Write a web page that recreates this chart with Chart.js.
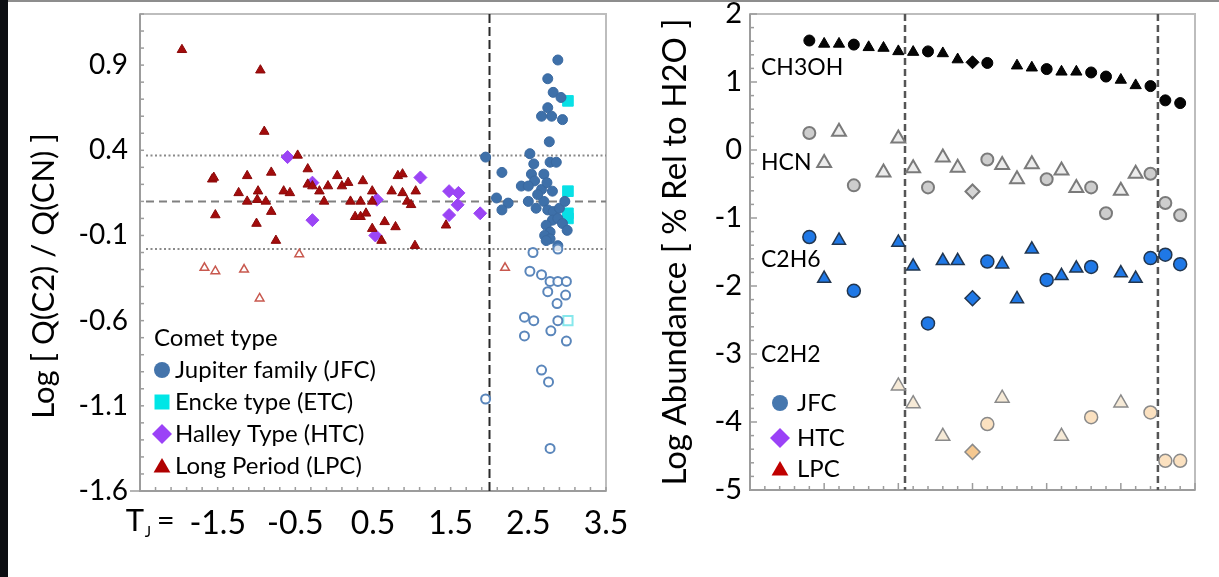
<!DOCTYPE html>
<html>
<head>
<meta charset="utf-8">
<title>Comet composition</title>
<script src="https://cdn.jsdelivr.net/npm/chart.js@4.4.1/dist/chart.umd.min.js"></script>
<style>
  html, body { margin: 0; padding: 0; background: #fff; }
  #page { position: relative; width: 1219px; height: 577px; overflow: hidden; background: #fff; }
  #page::before { content: ''; position: absolute; left: 0; top: 0; right: 0; height: 2px; background: #8d8d8d; z-index: 2; }
  #edge { position: absolute; left: 0; top: 0; width: 8px; height: 577px; background: #0c0e12; z-index: 3; }
  canvas { position: absolute; top: 0; }
  #ratioChart { left: 0; }
  #abundChart { left: 620px; }
</style>
</head>
<body>
<div id="page">
  <canvas id="ratioChart" width="650" height="577"></canvas>
  <canvas id="abundChart" width="599" height="577"></canvas>
  <div id="edge"></div>
</div>
<script>
// ---- left panel: Tisserand parameter vs log Q(C2)/Q(CN) ----
const tjTicks = [-1.5, -0.5, 0.5, 1.5, 2.5, 3.5];
const ratioTicks = [-1.6, -1.1, -0.6, -0.1, 0.4, 0.9];

const lpcTj = [-1.96, -0.95, -0.90, -0.47, -1.57, -1.55, -1.53, -1.12, -1.23, -1.12, -0.98, -0.99, -0.88, -0.81, -0.81, -1.00, -0.75,
  -0.65, -0.57, -0.34, -0.34, -0.28, -0.19, -0.13, -0.08, 0.04, 0.10, 0.18, 0.21, 0.34, 0.37, 0.27, 0.34, 0.41, 0.49, 0.49, 0.49,
  0.61, 0.65, 0.74, 0.79, 0.82, 0.88, 0.88, 0.94, 0.99, 1.05, 1.04, 1.44];
const lpcRatio = [0.99, 0.87, 0.51, 0.37, 0.23, 0.24, 0.02, 0.25, 0.15, 0.10, 0.16, 0.11, 0.10, 0.27, 0.04, -0.03, -0.13,
  0.16, 0.15, 0.29, 0.20, 0.19, 0.16, 0.10, 0.19, 0.25, 0.19, 0.21, 0.10, 0.10, 0.22, 0.01, 0.01, 0.03, 0.16, 0.10, -0.06,
  -0.13, -0.02, 0.16, -0.05, 0.25, 0.26, 0.15, 0.10, 0.08, 0.16, -0.16, -0.04];
const lpcDepTj = [-1.67, -1.53, -1.16, -0.96, -0.45, 2.20];
const lpcDepRatio = [-0.29, -0.31, -0.30, -0.47, -0.21, -0.29];

const htcTj = [-0.60, -0.28, -0.28, 0.55, 0.53, 1.11, 1.48, 1.60, 1.59, 1.48, 1.88];
const htcRatio = [0.36, 0.21, -0.01, 0.11, -0.10, 0.24, 0.16, 0.15, 0.08, 0.02, 0.03];

const jfcTj = [2.88, 2.75, 2.82, 2.92, 2.75, 2.67, 2.80, 2.94, 2.77, 2.52, 1.95, 2.57, 2.78, 2.86, 2.16, 2.54, 2.70, 2.58,
  2.41, 2.50, 2.67, 2.81, 2.09, 2.24, 2.16, 2.50, 2.60, 2.70, 2.75, 2.82, 2.90, 2.97, 2.81, 2.88, 2.94, 2.73, 2.78, 3.00,
  2.71, 2.78, 2.88, 2.73, 2.74, 2.62];
const jfcRatio = [0.93, 0.82, 0.74, 0.71, 0.65, 0.60, 0.60, 0.58, 0.45, 0.38, 0.36, 0.32, 0.33, 0.33, 0.27, 0.26, 0.26, 0.22,
  0.19, 0.19, 0.17, 0.16, 0.12, 0.09, 0.05, 0.10, 0.06, 0.10, 0.05, 0.04, 0.06, 0.10, -0.01, 0.00, -0.03, -0.04, -0.08, -0.07,
  -0.10, -0.12, -0.16, -0.13, 0.21, 0.14];
const jfcDepTj = [2.56, 2.88, 2.52, 2.67, 2.78, 2.88, 2.99, 2.75, 2.98, 2.87, 2.45, 2.57, 2.88, 2.45, 2.79, 2.99, 2.67, 2.76, 1.95, 2.78];
const jfcDepRatio = [-0.20, -0.18, -0.31, -0.33, -0.37, -0.37, -0.37, -0.43, -0.45, -0.50, -0.58, -0.60, -0.60, -0.69, -0.66,
  -0.72, -0.89, -0.96, -1.06, -1.35];

const etcTj = [3.01, 3.01, 3.01, 3.01];
const etcRatio = [0.69, 0.16, 0.03, 0.00];
const etcDepTj = [3.01];
const etcDepRatio = [-0.60];

const ratioBand = [0.37, -0.18];   // dotted
const ratioMean = 0.10;            // dashed
const tjDivide = 2.0;              // dashed vertical

// ---- right panel: abundances relative to H2O, comets ordered along x ----
const abundTicks = [2, 1, 0, -1, -2, -3, -4, -5];
const groupBreaks = [10.45, 27.5];

const ch3ohIdx = [4, 5, 6, 7, 8, 9, 10, 11, 12, 13, 14, 15, 16, 18, 19, 20, 21, 22, 23, 24, 25, 26, 27, 28, 29];
const ch3ohType = ['J', 'L', 'L', 'J', 'L', 'L', 'L', 'L', 'J', 'L', 'L', 'H', 'J', 'L', 'L', 'J', 'L', 'L', 'J', 'J', 'L', 'L', 'J', 'J', 'J'];
const ch3ohVal = [1.61, 1.56, 1.56, 1.55, 1.51, 1.50, 1.45, 1.44, 1.45, 1.42, 1.33, 1.29, 1.28, 1.24, 1.21, 1.19, 1.15, 1.15,
  1.14, 1.08, 1.03, 0.95, 0.94, 0.73, 0.69];

const hcnIdx = [4, 5, 6, 7, 9, 10, 11, 12, 13, 14, 15, 16, 17, 18, 19, 20, 21, 22, 23, 24, 25, 26, 27, 28, 29];
const hcnType = ['J', 'L', 'L', 'J', 'L', 'L', 'L', 'J', 'L', 'L', 'H', 'J', 'L', 'L', 'L', 'J', 'L', 'L', 'J', 'J', 'L', 'L', 'J', 'J', 'J'];
const hcnVal = [0.25, -0.19, 0.27, -0.52, -0.33, 0.17, -0.27, -0.55, -0.11, -0.26, -0.61, -0.14, -0.22, -0.43, -0.21, -0.43,
  -0.30, -0.56, -0.55, -0.93, -0.60, -0.35, -0.35, -0.78, -0.96];

const c2h6Idx = [4, 5, 6, 7, 10, 11, 12, 13, 14, 15, 16, 17, 18, 19, 20, 21, 22, 23, 25, 26, 27, 28, 29];
const c2h6Type = ['J', 'L', 'L', 'J', 'L', 'L', 'J', 'L', 'L', 'H', 'J', 'L', 'L', 'L', 'J', 'L', 'L', 'J', 'L', 'L', 'J', 'J', 'J'];
const c2h6Val = [-1.28, -1.89, -1.33, -2.07, -1.36, -1.71, -2.55, -1.63, -1.63, -2.18, -1.64, -1.68, -2.19, -1.46, -1.91, -1.85,
  -1.74, -1.72, -1.81, -1.89, -1.59, -1.54, -1.68];

const c2h2Idx = [10, 11, 13, 15, 16, 17, 21, 23, 25, 27, 28, 29];
const c2h2Type = ['L', 'L', 'L', 'H', 'J', 'L', 'L', 'J', 'L', 'J', 'J', 'J'];
const c2h2Val = [-3.47, -3.73, -4.21, -4.44, -4.03, -3.65, -4.21, -3.93, -3.72, -3.86, -4.57, -4.57];

const FONT = 'Lato, "Open Sans", sans-serif';
Chart.defaults.font.family = FONT;
Chart.defaults.color = '#000';
Chart.defaults.animation = false;

const pts = (xs, ys) => xs.map((x, i) => ({ x, y: ys[i] }));

function drawFrame(ctx, a) {
  ctx.save();
  ctx.lineWidth = 2;
  ctx.strokeStyle = '#bdbdbd';
  ctx.strokeRect(a.left, a.top, a.right - a.left, a.bottom - a.top);
  ctx.strokeStyle = '#9c9c9c';
  ctx.beginPath();
  ctx.moveTo(a.left, a.top);
  ctx.lineTo(a.left, a.bottom);
  ctx.lineTo(a.right, a.bottom);
  ctx.stroke();
  ctx.restore();
}

function seg(ctx, x1, y1, x2, y2) {
  ctx.beginPath();
  ctx.moveTo(x1, y1);
  ctx.lineTo(x2, y2);
  ctx.stroke();
}

function marker(ctx, style, x, y, r, fill) {
  ctx.save();
  ctx.fillStyle = fill;
  ctx.beginPath();
  if (style === 'circle') {
    ctx.arc(x, y, r, 0, Math.PI * 2);
  } else if (style === 'square') {
    ctx.rect(x - r, y - r, 2 * r, 2 * r);
  } else if (style === 'diamond') {
    ctx.moveTo(x, y - r); ctx.lineTo(x + r, y); ctx.lineTo(x, y + r); ctx.lineTo(x - r, y);
  } else {
    ctx.moveTo(x, y - r); ctx.lineTo(x + r * 1.05, y + r * 0.8); ctx.lineTo(x - r * 1.05, y + r * 0.8);
  }
  ctx.closePath();
  ctx.fill();
  ctx.restore();
}

const ratioDecor = {
  id: 'ratioDecor',
  beforeDatasetsDraw(chart) {
    const { ctx, chartArea: a, scales: { x, y } } = chart;
    ctx.save();
    drawFrame(ctx, a);
    ctx.strokeStyle = '#9c9c9c';
    ctx.lineWidth = 1.5;
    seg(ctx, a.left - 10, a.bottom, a.left, a.bottom);
    for (let k = 0; k <= 28; k++) {
      const py = y.getPixelForValue(-1.6 + k * 0.1);
      seg(ctx, a.left, py, a.left + 4, py);
    }
    for (let k = 0; k <= 30; k++) {
      const px = x.getPixelForValue(-2.5 + k * 0.2);
      seg(ctx, px, a.bottom, px, a.bottom - 4);
    }
    ctx.lineWidth = 2;
    ctx.strokeStyle = '#8a8a8a';
    ctx.setLineDash([2, 2.5]);
    ratioBand.forEach(v => {
      const py = y.getPixelForValue(v);
      seg(ctx, a.left + 6, py, a.right, py);
    });
    ctx.strokeStyle = '#808080';
    ctx.setLineDash([8, 5]);
    const pm = y.getPixelForValue(ratioMean);
    seg(ctx, a.left + 6, pm, a.right, pm);
    ctx.strokeStyle = '#2a2a2a';
    ctx.setLineDash([9, 4]);
    const pd = x.getPixelForValue(tjDivide);
    seg(ctx, pd, a.top, pd, a.bottom);
    ctx.restore();
  },
  afterDraw(chart) {
    const { ctx, chartArea: a, scales: { x } } = chart;
    ctx.save();
    ctx.fillStyle = '#000';
    // axis title, a little below the centre of the axis as in the original
    ctx.save();
    ctx.translate(44, 276);
    ctx.rotate(-Math.PI / 2);
    ctx.textAlign = 'center';
    ctx.textBaseline = 'middle';
    ctx.font = '31px ' + FONT;
    ctx.fillText('Log [ Q(C2) / Q(CN) ]', 0, 0);
    ctx.restore();
    // "T_J =" in front of the first tick label
    const p0 = x.getPixelForValue(tjTicks[0]);
    ctx.textBaseline = 'middle';
    ctx.font = '31px ' + FONT;
    ctx.fillText('T', p0 - 92, 521);
    ctx.font = '15px ' + FONT;
    ctx.fillText('J', p0 - 73, 532);
    ctx.font = '31px ' + FONT;
    ctx.fillText('=', p0 - 61, 521);
    // legend
    const lx = a.left + 14;
    ctx.font = '24px ' + FONT;
    ctx.fillText('Comet type', lx, 338);
    const rows = [
      ['circle', '#4474ab', 'Jupiter family (JFC)', 370],
      ['square', '#00e6e6', 'Encke type (ETC)', 402],
      ['diamond', '#9b42f7', 'Halley Type (HTC)', 434],
      ['triangle', '#b00000', 'Long Period (LPC)', 466]
    ];
    rows.forEach(([s, c, t, py]) => {
      const r = s === 'diamond' ? 10 : s === 'square' ? 7.5 : 8;
      marker(ctx, s, lx + 8, py, r, c);
      ctx.fillStyle = '#000';
      ctx.fillText(t, lx + 21, py);
    });
    ctx.restore();
  }
};

new Chart(document.getElementById('ratioChart'), {
  type: 'scatter',
  data: {
    datasets: [
      { label: 'LPC (depleted)', data: pts(lpcDepTj, lpcDepRatio), pointStyle: 'triangle', pointRadius: 5,
        pointBackgroundColor: 'rgba(255,255,255,0.6)', pointBorderColor: '#c8584e', pointBorderWidth: 1.5 },
      { label: 'LPC', data: pts(lpcTj, lpcRatio), pointStyle: 'triangle', pointRadius: 5.5,
        pointBackgroundColor: '#a30c0c', pointBorderColor: '#8a0a0a', pointBorderWidth: 1 },
      { label: 'HTC', data: pts(htcTj, htcRatio), pointStyle: 'rectRot', pointRadius: 6.5,
        pointBackgroundColor: '#9b45f5', pointBorderColor: '#9b45f5', pointBorderWidth: 1 },
      { label: 'JFC (depleted)', data: pts(jfcDepTj, jfcDepRatio), pointStyle: 'circle', pointRadius: 4.5,
        pointBackgroundColor: 'rgba(255,255,255,0.8)', pointBorderColor: '#5a86bb', pointBorderWidth: 2 },
      { label: 'JFC', data: pts(jfcTj, jfcRatio), pointStyle: 'circle', pointRadius: 5,
        pointBackgroundColor: '#3e70a9', pointBorderColor: '#3a69a0', pointBorderWidth: 1 },
      { label: 'ETC', data: pts(etcTj, etcRatio), pointStyle: 'rect', pointRadius: 7.5,
        pointBackgroundColor: '#08e0e6', pointBorderColor: '#08e0e6', pointBorderWidth: 1 },
      { label: 'ETC (depleted)', data: pts(etcDepTj, etcDepRatio), pointStyle: 'rect', pointRadius: 6.5,
        pointBackgroundColor: '#ffffff', pointBorderColor: '#86e8ec', pointBorderWidth: 2 }
    ]
  },
  options: {
    responsive: false,
    layout: { padding: { left: 0, right: 44, top: 14, bottom: 0 } },
    plugins: { legend: { display: false }, tooltip: { enabled: false } },
    scales: {
      x: {
        type: 'linear', min: -2.5, max: 3.5,
        afterBuildTicks: s => { s.ticks = tjTicks.map(v => ({ value: v })); },
        afterFit: s => { s.height = 86; s.paddingLeft = 0; s.paddingRight = 0; },
        grid: { display: false, drawTicks: false },
        border: { display: false },
        ticks: { padding: 13, color: '#000', font: { size: 32 }, maxRotation: 0, callback: v => v.toFixed(1) }
      },
      y: {
        type: 'linear', min: -1.6, max: 1.2,
        afterBuildTicks: s => { s.ticks = ratioTicks.map(v => ({ value: v })); },
        afterFit: s => { s.width = 140; s.paddingTop = 0; s.paddingBottom = 0; },
        grid: { display: false, drawTicks: false },
        border: { display: false },
        ticks: { padding: 12, color: '#000', font: { size: 28 }, callback: v => v.toFixed(1) }
      }
    }
  },
  plugins: [ratioDecor]
});

// ---- right panel ----
const shapeOf = { J: 'circle', L: 'triangle', H: 'rectRot' };

function species(label, idx, vals, types, look) {
  return {
    label,
    data: pts(idx, vals),
    pointStyle: ctx => shapeOf[types[ctx.dataIndex]],
    pointRadius: ctx => look.r[types[ctx.dataIndex]],
    pointBackgroundColor: ctx => look.fill[types[ctx.dataIndex]],
    pointBorderColor: look.border,
    pointBorderWidth: look.bw
  };
}

const abundDecor = {
  id: 'abundDecor',
  beforeDatasetsDraw(chart) {
    const { ctx, chartArea: a, scales: { x, y } } = chart;
    ctx.save();
    drawFrame(ctx, a);
    ctx.strokeStyle = '#9c9c9c';
    ctx.lineWidth = 1.5;
    for (let k = 0; k <= 35; k++) {
      const py = y.getPixelForValue(-5 + k * 0.2);
      seg(ctx, a.left, py, a.left + (k % 5 === 0 ? 7 : 4), py);
    }
    for (let k = 0; k <= 30; k++) {
      const px = x.getPixelForValue(k);
      seg(ctx, px, a.bottom, px, a.bottom - (k % 5 === 0 ? 7 : 4));
    }
    ctx.strokeStyle = '#555';
    ctx.lineWidth = 2.5;
    ctx.setLineDash([7, 4]);
    groupBreaks.forEach(v => {
      const px = x.getPixelForValue(v);
      seg(ctx, px, a.top, px, a.bottom);
    });
    ctx.restore();
  },
  afterDraw(chart) {
    const { ctx, chartArea: a } = chart;
    ctx.save();
    ctx.fillStyle = '#000';
    ctx.textBaseline = 'middle';
    ctx.font = '23px ' + FONT;
    [['CH3OH', 68], ['HCN', 163], ['C2H6', 260], ['C2H2', 355]].forEach(([t, py]) => ctx.fillText(t, a.left + 11, py));
    ctx.font = '24px ' + FONT;
    [['circle', '#4677ae', 'JFC', 403, 8], ['diamond', '#9b42f7', 'HTC', 438, 10], ['triangle', '#c00000', 'LPC', 469, 8]]
      .forEach(([s, c, t, py, r]) => {
        marker(ctx, s, a.left + 30, py, r, c);
        ctx.fillStyle = '#000';
        ctx.fillText(t, a.left + 47, py);
      });
    ctx.restore();
  }
};

new Chart(document.getElementById('abundChart'), {
  type: 'scatter',
  data: {
    datasets: [
      species('CH3OH', ch3ohIdx, ch3ohVal, ch3ohType,
        { r: { J: 5.5, L: 6.5, H: 6.5 }, fill: { J: '#050505', L: '#050505', H: '#050505' }, border: '#000', bw: 1 }),
      species('HCN', hcnIdx, hcnVal, hcnType,
        { r: { J: 6, L: 8, H: 7 }, fill: { J: '#cdcdcd', L: '#ececec', H: '#d6d6d6' }, border: '#7a7a7a', bw: 2 }),
      species('C2H6', c2h6Idx, c2h6Val, c2h6Type,
        { r: { J: 6.5, L: 7.5, H: 7.5 }, fill: { J: '#1f78e6', L: '#1f78e6', H: '#1f78e6' }, border: '#22364f', bw: 1.5 }),
      species('C2H2', c2h2Idx, c2h2Val, c2h2Type,
        { r: { J: 6.5, L: 8, H: 7.5 }, fill: { J: '#fbe1c0', L: '#f6ead7', H: '#f5c890' }, border: '#8a8a8a', bw: 1.5 })
    ]
  },
  options: {
    responsive: false,
    layout: { padding: { left: 0, right: 24, top: 14, bottom: 0 } },
    plugins: { legend: { display: false }, tooltip: { enabled: false } },
    scales: {
      x: {
        type: 'linear', min: 0, max: 30,
        afterFit: s => { s.height = 87; s.paddingLeft = 0; s.paddingRight = 0; },
        grid: { display: false, drawTicks: false },
        border: { display: false },
        ticks: { display: false }
      },
      y: {
        type: 'linear', min: -5, max: 2,
        afterBuildTicks: s => { s.ticks = abundTicks.map(v => ({ value: v })); },
        afterFit: s => { s.width = 130; s.paddingTop = 0; s.paddingBottom = 0; },
        grid: { display: false, drawTicks: false },
        border: { display: false },
        ticks: { padding: 8, color: '#000', font: { size: 29 }, callback: v => String(v) },
        title: { display: true, text: 'Log Abundance [ % Rel to H2O ]', color: '#000', font: { size: 33 }, padding: { top: 36, bottom: 0 } }
      }
    }
  },
  plugins: [abundDecor]
});
</script>
</body>
</html>
